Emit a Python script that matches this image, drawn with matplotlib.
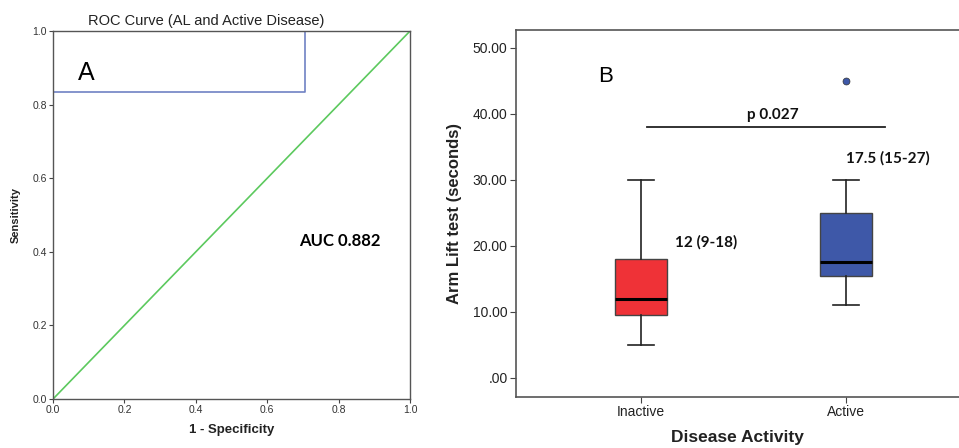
import matplotlib.pyplot as plt
import numpy as np

# ROC curve points (1 - specificity, sensitivity)
roc_fpr = [0.0, 0.0, 0.706, 0.706, 1.0]
roc_tpr = [0.0, 0.833, 0.833, 1.0, 1.0]
auc_text = 'AUC 0.882'

# box plot summary for arm lift test
groups = ['Inactive', 'Active']
q1 = [9.5, 15.5]
median = [12.0, 17.5]
q3 = [18.0, 25.0]
whisk_lo = [5.0, 11.0]
whisk_hi = [30.0, 30.0]
outliers = [[], [45.0]]
box_colors = ['#ef3237', '#3e58a8']
group_labels = ['12 (9-18)', '17.5 (15-27)']
p_text = 'p 0.027'

plt.rcParams['font.family'] = ['Liberation Sans', 'DejaVu Sans']

fig = plt.figure(figsize=(9.59, 4.48), dpi=100)

# ---- panel A: ROC
ax1 = fig.add_axes([0.0553, 0.1094, 0.3723, 0.8214])
ax1.plot([0, 1], [0, 1], color='#5cc95e', lw=1.2)
ax1.plot(roc_fpr, roc_tpr, color='#6f82c4', lw=1.2)
ax1.set_xlim(0, 1)
ax1.set_ylim(0, 1)
ax1.set_xticks(np.arange(0, 1.01, 0.2))
ax1.set_yticks(np.arange(0, 1.01, 0.2))
ax1.xaxis.set_major_formatter(plt.FormatStrFormatter('%.1f'))
ax1.yaxis.set_major_formatter(plt.FormatStrFormatter('%.1f'))
ax1.tick_params(labelsize=7.5, length=3, color='#444', labelcolor='#333', pad=1.5)
for s in ax1.spines.values():
    s.set_color('#555')
    s.set_linewidth(1.0)
ax1.set_title('ROC Curve (AL and Active Disease)', fontsize=10.5, color='#222', pad=4, x=0.43)
ax1.set_xlabel('1 - Specificity', fontsize=9.5, fontweight='bold', color='#222', labelpad=6)
ax1.set_ylabel('Sensitivity', fontsize=8, fontweight='bold', color='#222', labelpad=8)
ax1.text(0.07, 0.885, 'A', fontsize=18, va='center', ha='left')
ax1.text(0.69, 0.43, auc_text, fontsize=12, fontweight='bold', va='center', ha='left',
         family=['Lato', 'DejaVu Sans'])

# ---- panel B: box plot
ax2 = fig.add_axes([0.538, 0.1138, 0.462, 0.8192])
stats = []
for i in range(len(groups)):
    stats.append(dict(med=median[i], q1=q1[i], q3=q3[i], whislo=whisk_lo[i],
                      whishi=whisk_hi[i], fliers=outliers[i], label=groups[i]))
pos = [1, 2]
bp = ax2.bxp(stats, positions=pos, widths=0.25, capwidths=0.127, patch_artist=True,
             boxprops=dict(edgecolor='#444', lw=1.0),
             medianprops=dict(color='black', lw=2.2),
             whiskerprops=dict(color='#222', lw=1.2),
             capprops=dict(color='#222', lw=1.2),
             flierprops=dict(marker='o', markerfacecolor='#3e58a8', markeredgecolor='#333',
                             markersize=5, markeredgewidth=0.5))
for patch, c in zip(bp['boxes'], box_colors):
    patch.set_facecolor(c)

ax2.set_xlim(0.39, 2.551)
ax2.set_ylim(-2.9, 52.7)
ax2.set_yticks(np.arange(0, 51, 10))
ax2.set_yticklabels(['.00'] + ['%.2f' % v for v in np.arange(10, 51, 10)])
ax2.tick_params(labelsize=10, length=4, color='#444', labelcolor='#222', pad=2)
ax2.spines['right'].set_visible(False)
for s in ['left', 'bottom', 'top']:
    ax2.spines[s].set_color('#555')
    ax2.spines[s].set_linewidth(1.2)
ax2.set_xlabel('Disease Activity', fontsize=12.5, fontweight='bold', color='#222', labelpad=8)
ax2.set_ylabel('Arm Lift test (seconds)', fontsize=12, fontweight='bold', color='#222', labelpad=8)

ann = dict(fontsize=11, fontweight='bold', family=['Lato', 'DejaVu Sans'], color='#111')
ax2.plot([1.03, 2.19], [38, 38], color='#222', lw=1.3)
ax2.text(1.645, 39.9, p_text, ha='center', va='center', **ann)
ax2.text(1.165, 20.6, group_labels[0], ha='left', va='center', **ann)
ax2.text(2.0, 33.3, group_labels[1], ha='left', va='center', **ann)
ax2.text(0.79, 45.6, 'B', fontsize=16, ha='left', va='center')

fig.savefig('out.png', dpi=100)
